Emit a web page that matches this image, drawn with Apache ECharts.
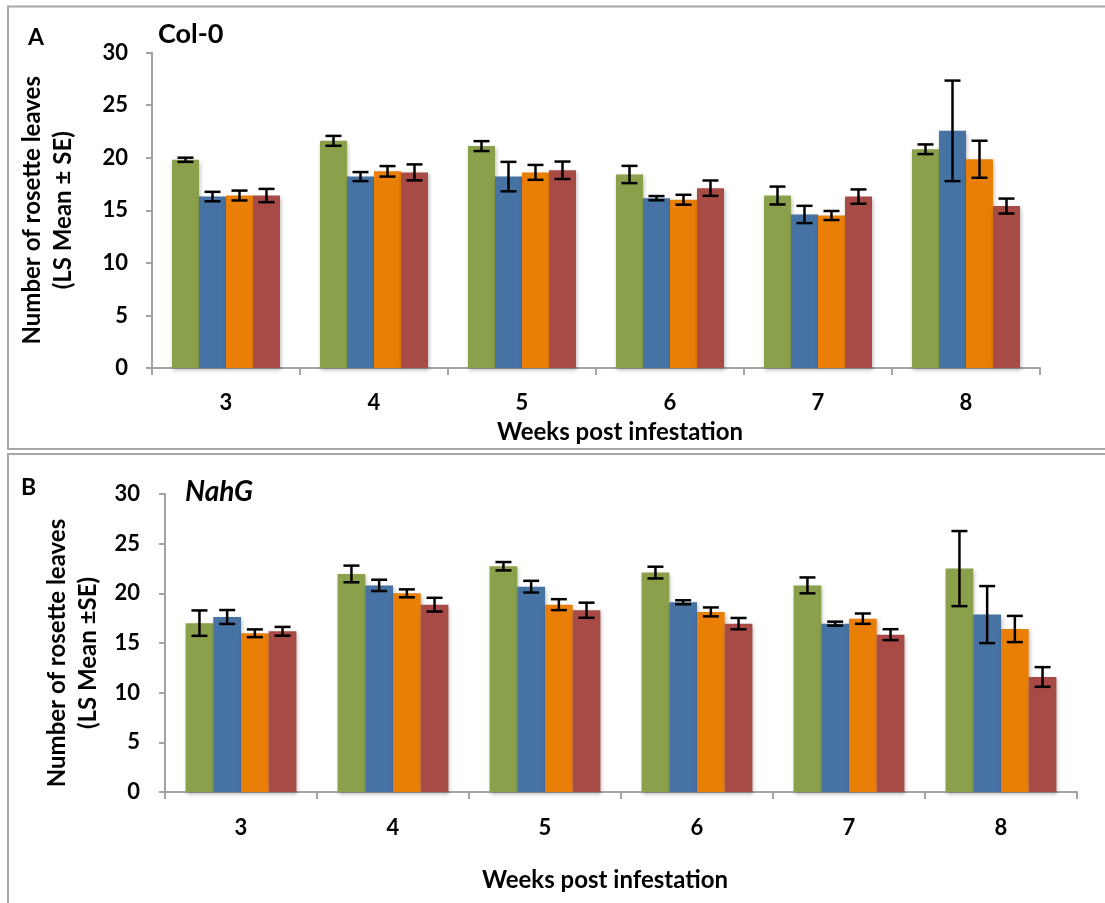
<!DOCTYPE html>
<html>
<head>
<meta charset="utf-8">
<title>Rosette leaves</title>
<script src="https://cdn.jsdelivr.net/npm/echarts@6/dist/echarts.min.js"></script>
<style>
  html, body { margin: 0; padding: 0; background: #fff; }
  #chart { width: 1105px; height: 903px; }
</style>
</head>
<body>
<div id="chart"></div>
<script>
// Weeks post infestation (category axis)
const weeks = ['3', '4', '5', '6', '7', '8'];
const yTicks = [0, 5, 10, 15, 20, 25, 30];

// Col-0: LS means, one row per treatment group
const col0Mean = [
  [19.8, 21.6, 21.1, 18.4, 16.4, 20.8],
  [16.3, 18.2, 18.2, 16.15, 14.6, 22.55],
  [16.4, 18.7, 18.6, 16.0, 14.5, 19.85],
  [16.4, 18.6, 18.8, 17.1, 16.3, 15.4]
];
// Col-0: standard errors
const col0SE = [
  [0.2, 0.47, 0.47, 0.82, 0.85, 0.46],
  [0.45, 0.43, 1.4, 0.2, 0.82, 4.78],
  [0.47, 0.5, 0.71, 0.47, 0.43, 1.76],
  [0.63, 0.76, 0.83, 0.73, 0.68, 0.71]
];

// NahG: LS means
const nahgMean = [
  [17.0, 21.95, 22.73, 22.09, 20.8, 22.49],
  [17.62, 20.8, 20.67, 19.1, 16.95, 17.86],
  [15.98, 20.0, 18.86, 18.13, 17.45, 16.41],
  [16.18, 18.86, 18.3, 16.95, 15.84, 11.58]
];
// NahG: standard errors
const nahgSE = [
  [1.28, 0.84, 0.42, 0.59, 0.8, 3.78],
  [0.7, 0.57, 0.59, 0.2, 0.2, 2.87],
  [0.39, 0.4, 0.55, 0.45, 0.52, 1.32],
  [0.44, 0.69, 0.76, 0.57, 0.55, 0.99]
];

const colors = ['#8AA04A', '#4672A4', '#EA7F07', '#A84A45'];
const FONT = 'Lato, "Open Sans", "Liberation Sans", sans-serif';
const axisGray = '#A3A3A3';

function panel(idx, means, ses, opts) {
  const grid = { left: opts.left, top: opts.top, width: opts.width, height: opts.height };
  const xAxis = {
    type: 'category', gridIndex: idx, data: weeks,
    name: 'Weeks post infestation', nameLocation: 'middle', nameGap: opts.xNameGap,
    nameTextStyle: { fontFamily: FONT, fontWeight: 'bold', fontSize: 24, color: '#000', padding: opts.xNamePad },
    axisLine: { lineStyle: { color: axisGray, width: 2 } },
    axisTick: { show: true, length: 7, lineStyle: { color: axisGray, width: 2 } },
    axisLabel: { fontFamily: FONT, fontWeight: 'bold', fontSize: 22, color: '#000', margin: opts.xLabelMargin }
  };
  const yAxis = {
    type: 'value', gridIndex: idx, min: yTicks[0], max: yTicks[yTicks.length - 1], interval: 5,
    name: opts.yName, nameLocation: 'middle', nameGap: opts.yNameGap,
    nameTextStyle: { fontFamily: FONT, fontWeight: 'bold', fontSize: 24, color: '#000', lineHeight: 31, padding: opts.yNamePad },
    axisLine: { show: true, lineStyle: { color: axisGray, width: 2 } },
    axisTick: { show: true, length: 6, lineStyle: { color: axisGray, width: 2 } },
    splitLine: { show: false },
    axisLabel: { fontFamily: FONT, fontWeight: 'bold', fontSize: 22, color: '#000', margin: opts.yLabelMargin }
  };
  const series = [];
  means.forEach((row, k) => {
    series.push({
      type: 'bar', xAxisIndex: idx, yAxisIndex: idx, data: row,
      barWidth: opts.barWidth, barGap: '0%',
      itemStyle: {
        color: colors[k],
        shadowBlur: 4, shadowColor: 'rgba(0,0,0,0.28)', shadowOffsetX: 1, shadowOffsetY: 2
      },
      silent: true, animation: false
    });
  });
  // Error bars (mean ± SE) drawn over each bar
  means.forEach((row, k) => {
    series.push({
      type: 'custom', xAxisIndex: idx, yAxisIndex: idx, z: 5, silent: true, animation: false,
      data: row.map((m, i) => [i, m, ses[k][i]]),
      renderItem: function (params, api) {
        const i = api.value(0), m = api.value(1), e = api.value(2);
        const hi = api.coord([i, m + e]);
        const lo = api.coord([i, m - e]);
        const cx = hi[0] + (k - 1.5) * opts.barWidth;
        const cap = 8;
        const st = { stroke: '#000', lineWidth: 2.5 };
        return {
          type: 'group',
          children: [
            { type: 'line', shape: { x1: cx, y1: hi[1], x2: cx, y2: lo[1] }, style: st },
            { type: 'line', shape: { x1: cx - cap, y1: hi[1], x2: cx + cap, y2: hi[1] }, style: st },
            { type: 'line', shape: { x1: cx - cap, y1: lo[1], x2: cx + cap, y2: lo[1] }, style: st }
          ]
        };
      }
    });
  });
  return { grid, xAxis, yAxis, series };
}

const pA = panel(0, col0Mean, col0SE, {
  left: 152, top: 52.5, width: 888, height: 315.5, barWidth: 27,
  xNameGap: 52, xNamePad: [0, 0, 0, 48], xLabelMargin: 24,
  yName: 'Number of rosette leaves\n(LS Mean ± SE)', yNameGap: 73, yNamePad: [0, 0, 0, 0], yLabelMargin: 24
});
const pB = panel(1, nahgMean, nahgSE, {
  left: 165, top: 494, width: 912, height: 298, barWidth: 27.7,
  xNameGap: 76, xNamePad: [0, 32, 0, 0], xLabelMargin: 25,
  yName: 'Number of rosette leaves\n(LS Mean ±SE)', yNameGap: 59, yNamePad: [0, 20, 0, 0], yLabelMargin: 25
});

const chart = echarts.init(document.getElementById('chart'), null, { renderer: 'canvas' });
chart.setOption({
  backgroundColor: '#fff',
  animation: false,
  grid: [pA.grid, pB.grid],
  xAxis: [pA.xAxis, pB.xAxis],
  yAxis: [pA.yAxis, pB.yAxis],
  series: pA.series.concat(pB.series),
  graphic: [
    { type: 'rect', z: -1, shape: { x: 8, y: 6.5, width: 1120, height: 442.5 },
      style: { fill: 'none', stroke: '#A8A8A8', lineWidth: 2 } },
    { type: 'rect', z: -1, shape: { x: 8, y: 454, width: 1120, height: 470 },
      style: { fill: 'none', stroke: '#A8A8A8', lineWidth: 2 } },
    { type: 'text', x: 28, y: 38, style: { text: 'A', font: 'bold 23px ' + FONT, fill: '#000', align: 'left', verticalAlign: 'middle' } },
    { type: 'text', x: 158, y: 34, style: { text: 'Col-0', font: 'bold 27px ' + FONT, fill: '#000', align: 'left', verticalAlign: 'middle' } },
    { type: 'text', x: 21, y: 488, style: { text: 'B', font: 'bold 23px ' + FONT, fill: '#000', align: 'left', verticalAlign: 'middle' } },
    { type: 'text', x: 185, y: 492, style: { text: 'NahG', font: 'italic bold 28px ' + FONT, fill: '#000', align: 'left', verticalAlign: 'middle' } }
  ]
});
</script>
</body>
</html>
